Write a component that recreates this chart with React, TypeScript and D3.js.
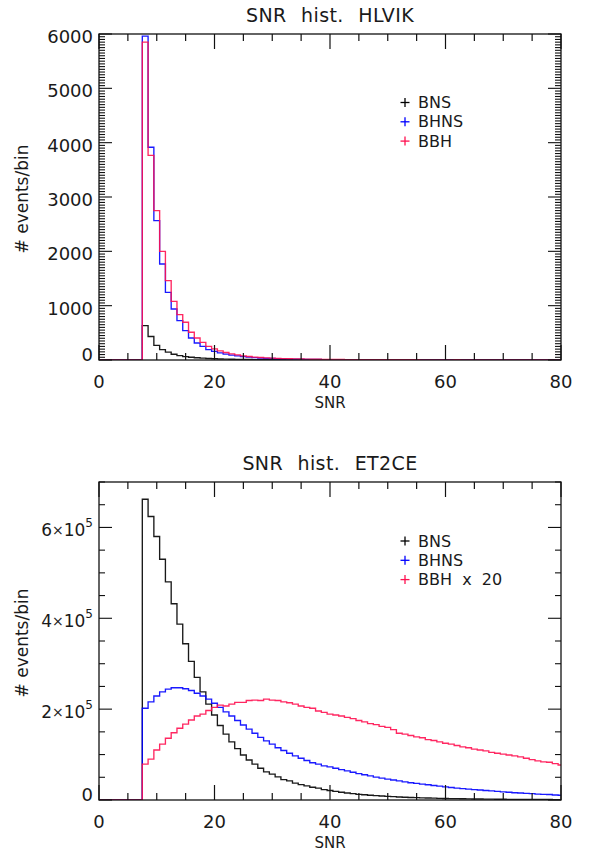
import React from "react";
import * as d3 from "d3";

// SNR bin centres 0..80 (bin width 1)
const snrBins: number[] = d3.range(0, 81);

// ---- Top panel: HLVIK (events / bin)
const hlvikBNS: number[] = [
  0, 0, 0, 0, 0, 0, 0, 0, 632, 432, 270, 192, 146, 105, 80, 62, 50, 42, 35, 28,
  23, 19, 16, 14, 12, 10, 9, 8, 7, 6, 5, 5, 4, 4, 3, 3, 3, 2, 2, 2,
  2, 1, 1, 1, 1, 1, 1, 1, 1, 1, 1, 1, 1, 0, 0, 1, 0, 0, 0, 0,
  0, 0, 0, 0, 0, 0, 0, 0, 0, 0, 0, 0, 0, 0, 0, 0, 0, 0, 0, 0, 0,
];
const hlvikBHNS: number[] = [
  0, 0, 0, 0, 0, 0, 0, 0, 5960, 3915, 2565, 1767, 1245, 939, 724, 540, 405, 313, 251, 190,
  159, 130, 108, 90, 75, 62, 52, 44, 37, 31, 27, 23, 20, 17, 15, 13, 11, 10, 9, 8,
  7, 6, 6, 5, 5, 4, 4, 4, 3, 3, 3, 3, 2, 2, 2, 2, 2, 2, 2, 2,
  2, 2, 1, 1, 1, 1, 1, 1, 1, 1, 1, 1, 1, 1, 1, 1, 1, 1, 1, 1, 1,
];
const hlvikBBH: number[] = [
  0, 0, 0, 0, 0, 0, 0, 0, 5850, 3767, 2748, 2000, 1460, 1080, 834, 694, 510, 405, 325, 250,
  205, 168, 138, 112, 93, 76, 64, 54, 46, 40, 35, 30, 26, 23, 20, 18, 16, 14, 13, 12,
  11, 10, 9, 8, 8, 7, 7, 6, 6, 5, 5, 5, 4, 4, 4, 4, 3, 3, 3, 3,
  3, 3, 4, 3, 2, 2, 2, 2, 2, 2, 2, 2, 2, 2, 2, 2, 2, 2, 2, 2, 2,
];

// ---- Bottom panel: ET2CE (events / bin, in units of 1e5)
const et2ceBNS: number[] = [
  0, 0, 0, 0, 0, 0, 0, 0, 6.62, 6.24, 5.80, 5.30, 4.80, 4.32, 3.87, 3.44, 3.05, 2.70, 2.38, 2.11,
  1.87, 1.64, 1.45, 1.28, 1.13, 0.99, 0.88, 0.79, 0.70, 0.62, 0.57, 0.51, 0.45, 0.42, 0.37, 0.34, 0.31, 0.28, 0.26, 0.23,
  0.21, 0.19, 0.17, 0.155, 0.14, 0.125, 0.115, 0.105, 0.095, 0.087, 0.08, 0.073, 0.067, 0.061, 0.056, 0.052, 0.048, 0.044, 0.04, 0.037,
  0.034, 0.031, 0.029, 0.027, 0.025, 0.023, 0.021, 0.02, 0.018, 0.017, 0.016, 0.015, 0.014, 0.013, 0.012, 0.011, 0.011, 0.01, 0.01, 0.009, 0.009,
];
const et2ceBHNS: number[] = [
  0, 0, 0, 0, 0, 0, 0, 0, 2.02, 2.16, 2.29, 2.38, 2.44, 2.47, 2.47, 2.45, 2.41, 2.35, 2.29, 2.22,
  2.13, 2.04, 1.94, 1.85, 1.75, 1.65, 1.56, 1.47, 1.38, 1.30, 1.23, 1.15, 1.09, 1.03, 0.97, 0.92, 0.87, 0.82, 0.79, 0.75,
  0.73, 0.70, 0.67, 0.64, 0.61, 0.58, 0.555, 0.53, 0.505, 0.48, 0.46, 0.44, 0.42, 0.40, 0.38, 0.365, 0.35, 0.335, 0.32, 0.305,
  0.29, 0.275, 0.26, 0.25, 0.24, 0.23, 0.22, 0.21, 0.20, 0.19, 0.18, 0.17, 0.16, 0.155, 0.145, 0.14, 0.13, 0.125, 0.12, 0.11, 0.105,
];
const et2ceBBHx20: number[] = [
  0, 0, 0, 0, 0, 0, 0, 0, 0.79, 0.90, 1.10, 1.23, 1.36, 1.48, 1.58, 1.67, 1.76, 1.85, 1.89, 1.97,
  2.04, 2.09, 2.07, 2.11, 2.15, 2.15, 2.19, 2.20, 2.19, 2.22, 2.20, 2.19, 2.16, 2.14, 2.11, 2.07, 2.04, 2.02, 1.96, 1.93,
  1.89, 1.87, 1.85, 1.82, 1.79, 1.75, 1.72, 1.68, 1.66, 1.62, 1.60, 1.55, 1.47, 1.45, 1.42, 1.39, 1.37, 1.33, 1.31, 1.28,
  1.25, 1.23, 1.20, 1.17, 1.15, 1.12, 1.10, 1.08, 1.05, 1.03, 1.01, 0.99, 0.97, 0.95, 0.92, 0.89, 0.86, 0.84, 0.83, 0.80, 0.77,
];

const xMajorTicks: number[] = [0, 20, 40, 60, 80];
const topYMajor: number[] = [0, 1000, 2000, 3000, 4000, 5000, 6000];
const botYMajor: number[] = [0, 2, 4, 6];
const legendTop: string[] = ["BNS", "BHNS", "BBH"];
const legendBot: string[] = ["BNS", "BHNS", "BBH  x  20"];

const COLORS = ["#000000", "#0000ff", "#ff1050"];
const FONT = "'DejaVu Sans', sans-serif";
const TXT = "#1a1a1a";

type PanelProps = {
  id: string;
  title: string;
  top: number;
  bottom: number;
  yMax: number;
  yMajor: number[];
  yMinorStep: number;
  series: number[][];
  legend: string[];
  legendY: number;
  sciLabels: boolean;
};

function Panel(p: PanelProps) {
  const left = 99;
  const right = 561;
  const x = d3.scaleLinear().domain([0, 80]).range([left, right]);
  const y = d3.scaleLinear().domain([0, p.yMax]).range([p.bottom, p.top]);
  const xMinor = d3.range(0, 80.001, 5);
  const yMinor = d3.range(0, p.yMax + 1e-9, p.yMinorStep);
  const line = d3
    .line<[number, number]>()
    .x((d) => x(d[0]))
    .y((d) => y(d[1]))
    .curve(d3.curveStepAfter);
  const pathFor = (vals: number[]) => {
    const pts: [number, number][] = snrBins.map((c, i) => [c - 0.5, vals[i]]);
    pts.push([snrBins[snrBins.length - 1] + 0.5, vals[vals.length - 1]]);
    pts.unshift([0, 0]);
    return line(pts) || "";
  };
  const midX = (left + right) / 2;
  const midY = (p.top + p.bottom) / 2;
  return (
    <g>
      <defs>
        <clipPath id={p.id}>
          <rect x={left} y={p.top} width={right - left} height={p.bottom - p.top} />
        </clipPath>
      </defs>
      <text x={midX} y={p.top - 19} textAnchor="middle" dominantBaseline="central" fontFamily={FONT} fontSize={19} fill={TXT} style={{ wordSpacing: "8px", letterSpacing: "0.4px" }}>
        {p.title}
      </text>
      {/* histograms */}
      <g clipPath={`url(#${p.id})`}>
        {p.series.map((s, i) => (
          <path key={i} d={pathFor(s)} fill="none" stroke={COLORS[i]} strokeWidth={1.35} strokeOpacity={0.9} />
        ))}
      </g>
      {/* frame */}
      <rect x={left} y={p.top} width={right - left} height={p.bottom - p.top} fill="none" stroke="#111" strokeWidth={1.3} />
      {/* x ticks */}
      {xMinor.map((v) => {
        const major = xMajorTicks.includes(v);
        const len = major ? 15 : 7;
        return (
          <g key={"x" + v} stroke="#111" strokeWidth={1.2}>
            <line x1={x(v)} x2={x(v)} y1={p.bottom} y2={p.bottom - len} />
            <line x1={x(v)} x2={x(v)} y1={p.top} y2={p.top + len} />
          </g>
        );
      })}
      {xMajorTicks.map((v) => (
        <text key={"xl" + v} x={x(v)} y={p.bottom + 21} textAnchor="middle" dominantBaseline="central" fontFamily={FONT} fontSize={18} fill={TXT}>
          {v}
        </text>
      ))}
      <text x={midX} y={p.bottom + 43} textAnchor="middle" dominantBaseline="central" fontFamily={FONT} fontSize={15} fill={TXT}>
        SNR
      </text>
      {/* y ticks */}
      {yMinor.map((v, i) => {
        const major = p.yMajor.some((m) => Math.abs(m - v) < 1e-9);
        const len = major ? 13 : 6;
        return (
          <g key={"y" + i} stroke="#111" strokeWidth={1.1}>
            <line x1={left} x2={left + len} y1={y(v)} y2={y(v)} />
            <line x1={right} x2={right - len} y1={y(v)} y2={y(v)} />
          </g>
        );
      })}
      {p.yMajor.map((v) => {
        const cy = v === 0 ? y(v) - 6 : y(v) + 2.5;
        if (!p.sciLabels || v === 0) {
          return (
            <text key={"yl" + v} x={93} y={cy} textAnchor="end" dominantBaseline="central" fontFamily={FONT} fontSize={18} fill={TXT}>
              {v}
            </text>
          );
        }
        return (
          <text key={"yl" + v} x={93} y={cy} textAnchor="end" dominantBaseline="central" fontFamily={FONT} fontSize={17} fill={TXT}>
            {v}
            <tspan fontSize={14}>×</tspan>10
            <tspan fontSize={12} dy={-7}>5</tspan>
          </text>
        );
      })}
      <text
        x={22}
        y={midY + 2}
        transform={`rotate(-90 22 ${midY + 2})`}
        textAnchor="middle"
        dominantBaseline="central"
        fontFamily={FONT}
        fontSize={17}
        fill={TXT}
      >
        # events/bin
      </text>
      {/* legend */}
      {p.legend.map((name, i) => {
        const ly = p.legendY + i * 19.3;
        return (
          <g key={"lg" + i}>
            <line x1={400.5} x2={409.5} y1={ly} y2={ly} stroke={COLORS[i]} strokeWidth={1.3} />
            <line x1={405} x2={405} y1={ly - 4.5} y2={ly + 4.5} stroke={COLORS[i]} strokeWidth={1.3} />
            <text x={418} y={ly} dominantBaseline="central" fontFamily={FONT} fontSize={16} fill={TXT} style={{ whiteSpace: "pre" }}>
              {name}
            </text>
          </g>
        );
      })}
    </g>
  );
}

export default function App() {
  return (
    <svg width={592} height={852} style={{ position: "absolute", left: 0, top: 0, background: "#fff" }}>
      <rect width={592} height={852} fill="#fff" />
      <Panel
        id="clipTop"
        title="SNR hist. HLVIK"
        top={34}
        bottom={360}
        yMax={6000}
        yMajor={topYMajor}
        yMinorStep={50}
        series={[hlvikBNS, hlvikBHNS, hlvikBBH]}
        legend={legendTop}
        legendY={102.5}
        sciLabels={false}
      />
      <Panel
        id="clipBot"
        title="SNR hist. ET2CE"
        top={482}
        bottom={800}
        yMax={7}
        yMajor={botYMajor}
        yMinorStep={0.5}
        series={[et2ceBNS, et2ceBHNS, et2ceBBHx20]}
        legend={legendBot}
        legendY={541}
        sciLabels={true}
      />
    </svg>
  );
}
